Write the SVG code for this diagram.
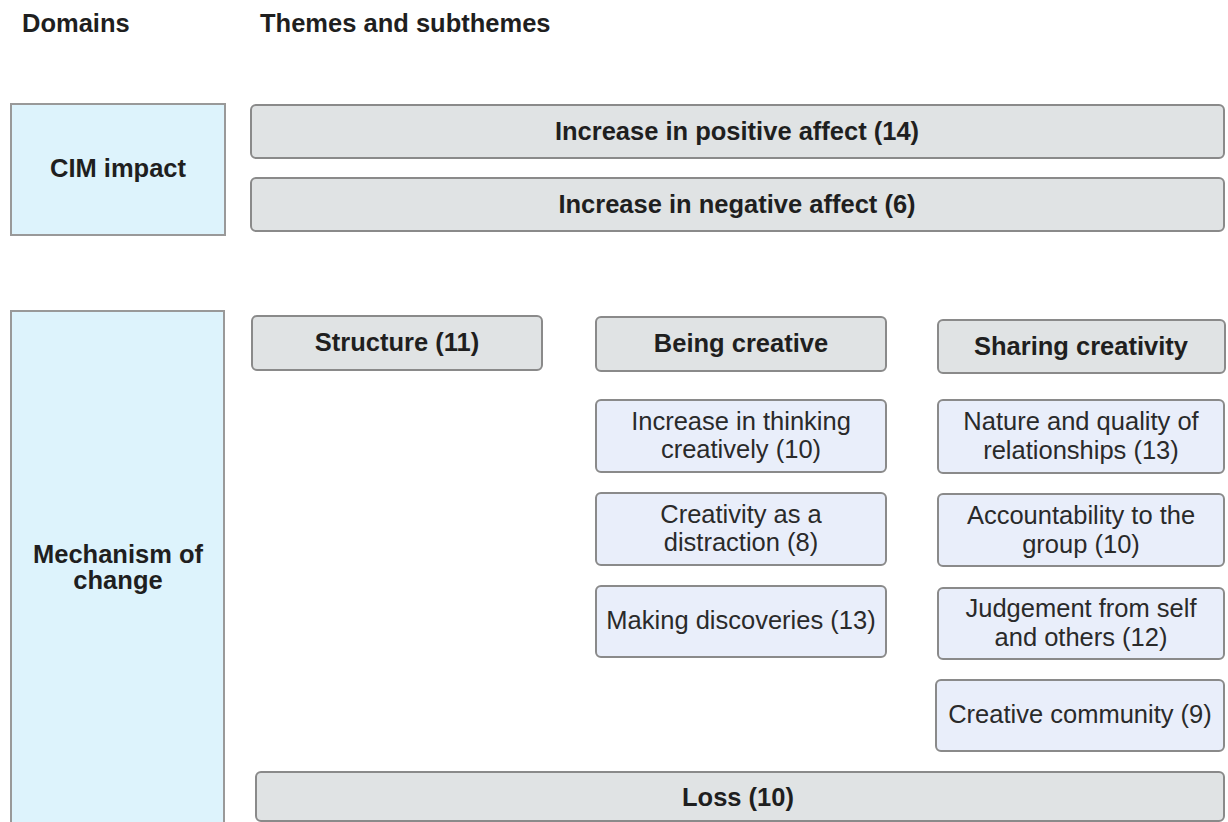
<svg xmlns="http://www.w3.org/2000/svg" width="1228" height="822" viewBox="0 0 1228 822">
<style>
text{font-family:"Liberation Sans",Arial,sans-serif;fill:#1f1f1f;text-anchor:middle}
.h{font-weight:bold;font-size:25.5px;text-anchor:start}
.b{font-weight:bold;font-size:25.5px}
.r{font-size:25.5px;fill:#2a2a2a}
.dom{fill:#ddf3fc;stroke:#999;stroke-width:2}
.theme{fill:#e0e3e4;stroke:#8a8a8a;stroke-width:2}
.sub{fill:#e9eefa;stroke:#8a8a8a;stroke-width:2}
</style>
<rect width="1228" height="822" fill="#fff"/>
<g id="headers">
<text class="h" x="22" y="32">Domains</text>
<text class="h" x="260" y="32">Themes and subthemes</text>
</g>
<g id="connectors"></g>
<g id="cim-impact"><rect class="dom" x="11" y="104" width="214" height="131"/><text class="b" x="118" y="177">CIM impact</text></g>
<g id="mechanism"><rect class="dom" x="11" y="311" width="213" height="520"/><text class="b" x="118" y="563">Mechanism of</text><text class="b" x="118" y="589">change</text></g>
<g id="pos-affect"><rect class="theme" x="251" y="105" width="973" height="53" rx="5"/><text class="b" x="737" y="140">Increase in positive affect (14)</text></g>
<g id="neg-affect"><rect class="theme" x="251" y="178" width="973" height="53" rx="5"/><text class="b" x="737" y="213">Increase in negative affect (6)</text></g>
<g id="structure"><rect class="theme" x="252" y="316" width="290" height="54" rx="5"/><text class="b" x="397" y="351">Structure (11)</text></g>
<g id="being-creative"><rect class="theme" x="596" y="317" width="290" height="54" rx="5"/><text class="b" x="741" y="352">Being creative</text></g>
<g id="sharing-creativity"><rect class="theme" x="938" y="320" width="287" height="53" rx="5"/><text class="b" x="1081" y="355">Sharing creativity</text></g>
<g id="thinking"><rect class="sub" x="596" y="400" width="290" height="72" rx="5"/><text class="r" x="741" y="430">Increase in thinking</text><text class="r" x="741" y="458">creatively (10)</text></g>
<g id="distraction"><rect class="sub" x="596" y="493" width="290" height="72" rx="5"/><text class="r" x="741" y="523">Creativity as a</text><text class="r" x="741" y="551">distraction (8)</text></g>
<g id="discoveries"><rect class="sub" x="596" y="586" width="290" height="71" rx="5"/><text class="r" x="741" y="629">Making discoveries (13)</text></g>
<g id="relationships"><rect class="sub" x="938" y="400" width="286" height="73" rx="5"/><text class="r" x="1081" y="430">Nature and quality of</text><text class="r" x="1081" y="459">relationships (13)</text></g>
<g id="accountability"><rect class="sub" x="938" y="494" width="286" height="72" rx="5"/><text class="r" x="1081" y="524">Accountability to the</text><text class="r" x="1081" y="553">group (10)</text></g>
<g id="judgement"><rect class="sub" x="938" y="588" width="286" height="71" rx="5"/><text class="r" x="1081" y="617">Judgement from self</text><text class="r" x="1081" y="646">and others (12)</text></g>
<g id="community"><rect class="sub" x="936" y="680" width="288" height="71" rx="5"/><text class="r" x="1080" y="723">Creative community (9)</text></g>
<g id="loss"><rect class="theme" x="256" y="772" width="968" height="49" rx="5"/><text class="b" x="738" y="806">Loss (10)</text></g>
</svg>
